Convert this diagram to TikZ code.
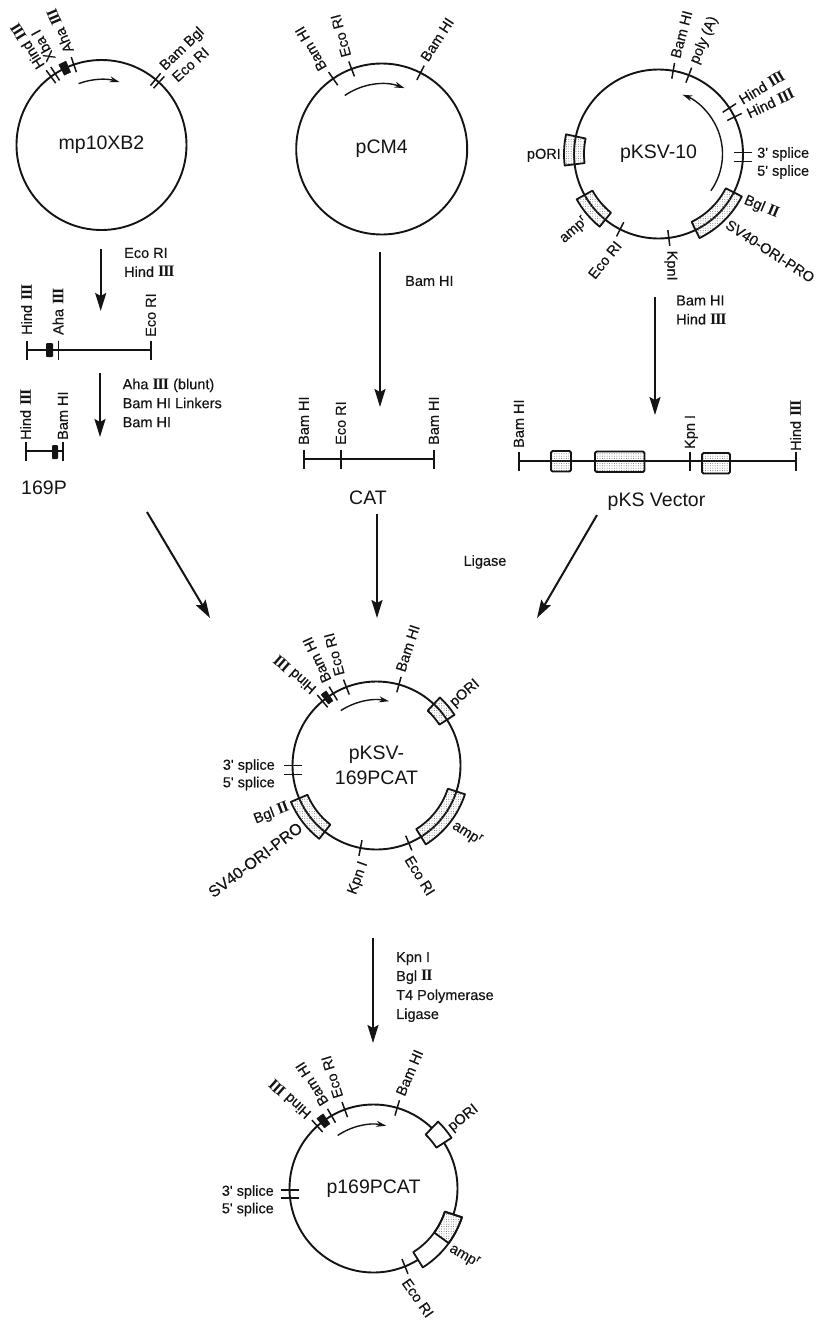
\documentclass[tikz,border=0pt]{standalone}
\usepackage{fontspec}
\setmainfont{Liberation Sans}
\newfontfamily\romfont[Scale=1.1]{Liberation Serif}
\newfontfamily\labfont[FakeBold=0.35]{Liberation Sans}
\usetikzlibrary{arrows.meta, patterns.meta}
\definecolor{ink}{HTML}{141414}

\newcommand{\plasfont}{\fontsize{19.5}{25}\selectfont}
\newcommand{\sitefont}{\labfont\fontsize{14.5}{19}\selectfont}
\newcommand{\longfont}{\fontsize{16}{19}\selectfont}
% Roman numerals of the enzyme names
\newcommand{\rIII}{{\romfont\bfseries I\kern-1pt I\kern-1pt I}}
\newcommand{\rII}{{\romfont\bfseries I\kern-1pt I}}

\tikzset{
  plasmid/.style={draw=ink, circle, line width=1.9pt, inner sep=0pt, outer sep=0pt,
    minimum size=2*\plasR pt, align=center, text=ink, font=\plasfont},
  sitelabel/.style={inner sep=0pt, text=ink, font=\sitefont, text height=10.5pt, text depth=1pt},
  steplabel/.style={inner sep=0pt, text=ink, font=\sitefont, align=left, anchor=west},
  namelabel/.style={inner sep=0pt, text=ink, font=\plasfont},
  sitebar/.style={ink, line width=1.5pt},
  genebox/.style={draw=ink, line width=1.8pt, line join=round,
    pattern={Dots[distance=2.4pt, radius=0.5pt]}, pattern color=ink!60},
  emptybox/.style={draw=ink, line width=1.8pt, line join=round, fill=white},
  markbox/.style={fill=ink, draw=ink, line width=0.5pt, line join=round},
  fragline/.style={ink, line width=1.6pt},
  generun/.style={ink, line width=1.4pt, -{Stealth[length=10pt, width=6pt]}},
  steparrow/.style={ink, line width=2pt, -{Stealth[length=18pt, width=11pt, inset=3pt]}},
}

% bar across the circle at an angle
\newcommand{\sitemark}[1]{\draw[sitebar] (#1:\plasR-8) -- (#1:\plasR+8);}
% flat bar for the splice sites
\newcommand{\splicemark}[1]{\draw[sitebar] (#1:\plasR) ++(-9,0) -- ++(18,0);}
% label running away from the circle: name, place angle, text angle, text
\newcommand{\siteout}[4]{\node[sitelabel, rotate=#3, anchor=west] (#1) at (#2:\plasR+13) {#4};}
% label running towards the circle
\newcommand{\sitein}[4]{\node[sitelabel, rotate=#3, anchor=east] (#1) at (#2:\plasR+13) {#4};}
% box sitting on the circle: style, from angle, to angle, half width
\newcommand{\plasarc}[4][genebox]{\draw[#1] (#2:\plasR-#4) arc[start angle=#2, end angle=#3, radius=\plasR-#4]
  -- (#3:\plasR+#4) arc[start angle=#3, end angle=#2, radius=\plasR+#4] -- cycle;}
% arrow inside the circle: from angle, to angle, radius
\newcommand{\plasrun}[3]{\draw[generun] (#1:#3) arc[start angle=#1, end angle=#2, radius=#3];}
% site on a linear fragment: name, x, y of the line, text, label gap
\newcommand{\fragsite}[5]{\draw[fragline] (#2,#3+9.5) -- (#2,#3-9.5);
  \node[sitelabel, rotate=90, anchor=west] (#1) at (#2,#3+#5) {#4};}

\begin{document}
\begin{tikzpicture}[x=1pt, y=1pt]
\useasboundingbox (0,0) rectangle (816,-1325);

% =============================================
% Top row: three starting plasmids
% =============================================
% mp10XB2
\begin{scope}[shift={(101.5,-145)}]
  \def\plasR{85}
  \node[plasmid] (mpten) at (0,0) {mp10XB2};
  \sitemark{126.5} \sitemark{123} \sitemark{109}
  \plasarc[markbox]{113}{118}{6}
  \sitemark{47.5} \sitemark{50.5}
  \plasrun{110.5}{74}{65.5}
  \siteout{mphind}{128}{122}{Hind \rIII}
  \siteout{mpxba}{120.5}{119}{Xba I}
  \siteout{mpaha}{109}{113}{Aha \rIII}
  \siteout{mpbam}{52}{44}{Bam Bgl}
  \siteout{mpeco}{42}{42}{Eco RI}
\end{scope}

% pCM4
\begin{scope}[shift={(381.7,-149)}]
  \def\plasR{85.5}
  \node[plasmid] (pcm) at (0,0) {pCM4};
  \sitemark{124.6} \sitemark{110.6} \sitemark{63}
  \plasrun{124.6}{69.5}{65}
  \siteout{pcmbama}{126.4}{120}{Bam HI}
  \siteout{pcmeco}{110.8}{105}{Eco RI}
  \siteout{pcmbamb}{64.5}{57}{Bam HI}
\end{scope}

% pKSV-10
\begin{scope}[shift={(658.5,-154)}]
  \def\plasR{84.5}
  \node[plasmid] (ksv) at (0,0) {pKSV-10};
  \sitemark{80} \sitemark{69} \sitemark{33} \sitemark{26}
  \splicemark{1} \splicemark{-5}
  \sitemark{-83} \sitemark{-117}
  \plasarc{-27}{-64}{9}
  \plasarc{209}{231}{9}
  \plasarc{168}{187}{10}
  \plasrun{-35}{68}{64}
  \siteout{ksvbam}{80}{75}{Bam HI}
  \siteout{ksvpoly}{69}{67}{poly (A)}
  \siteout{ksvhinda}{33}{31}{Hind \rIII}
  \siteout{ksvhindb}{24}{25}{Hind \rIII}
  \node[sitelabel, anchor=west] (ksvthree) at (98.5,1) {3' splice};
  \node[sitelabel, anchor=west] (ksvfive) at (98.5,-17) {5' splice};
  \siteout{ksvbgl}{-27.5}{-23}{Bgl \rII}
  \siteout{ksvsv}{-45.4}{-33}{SV40-ORI-PRO}
  \siteout{ksvkpn}{-82}{-90}{KpnI}
  \sitein{ksveco}{246}{51}{Eco RI}
  \sitein{ksvamp}{221.5}{41}{amp\textsuperscript{r}}
  \sitein{ksvori}{180}{0}{pORI}
\end{scope}

% =============================================
% Linear fragments
% =============================================
% Eco RI / Hind III piece of mp10XB2
\draw[fragline] (27,-350) -- (151,-350);
\fill[ink, rounded corners=1pt] (46,-343) rectangle (53,-357);
\fragsite{fahind}{27}{-350}{Hind \rIII}{15}
\fragsite{faaha}{58.5}{-350}{Aha \rIII}{15}
\fragsite{faeco}{151}{-350}{Eco RI}{13}

% 169P
\draw[fragline] (26,-451) -- (63,-451);
\fill[ink, rounded corners=1pt] (52,-445) rectangle (58,-459);
\fragsite{fbhind}{26}{-451}{Hind \rIII}{11}
\fragsite{fbbam}{63}{-451}{Bam HI}{11}
\node[namelabel] (p169) at (44,-488) {169P};

% CAT
\draw[fragline] (304,-459) -- (434,-459);
\fragsite{catbama}{304}{-459}{Bam HI}{14}
\fragsite{cateco}{341}{-459}{Eco RI}{14}
\fragsite{catbamb}{434}{-459}{Bam HI}{14}
\node[namelabel] (cat) at (368,-497.5) {CAT};

% pKS Vector
\draw[fragline] (519,-461) -- (796,-461);
\fragsite{vecbam}{519}{-461}{Bam HI}{13}
\fragsite{veckpn}{690}{-461}{Kpn I}{12}
\fragsite{vechind}{796}{-461}{Hind \rIII}{10}
\draw[genebox, rounded corners=1.5pt] (551,-451) rectangle (571,-471.5);
\draw[genebox, rounded corners=1.5pt] (595,-451.5) rectangle (644.5,-472);
\draw[genebox, rounded corners=1.5pt] (702,-453) rectangle (730,-473.5);
\node[namelabel] (vec) at (656.5,-502) {pKS Vector};

% =============================================
% Ligation product and final plasmid
% =============================================
% pKSV-169PCAT
\begin{scope}[shift={(376.5,-765.5)}]
  \def\plasR{84}
  \node[plasmid] (joined) at (0,0) {pKSV-\\169PCAT};
  \sitemark{130} \sitemark{121} \sitemark{111} \sitemark{74.5}
  \plasarc[markbox]{124}{128}{6}
  \splicemark{180} \splicemark{186}
  \sitemark{-67.4} \sitemark{-101}
  \plasarc{33}{47}{9}
  \plasarc{-18}{-58}{9}
  \plasarc{203}{232}{9}
  \plasrun{123}{79}{65.5}
  \siteout{jhind}{130}{139}{Hind \rIII}
  \siteout{jbama}{120.4}{115}{Bam HI}
  \siteout{jeco}{112}{105}{Eco RI}
  \siteout{jbamb}{75.7}{72}{Bam HI}
  \siteout{jori}{39.5}{41}{pORI}
  \siteout{jamp}{-37}{-32}{amp\textsuperscript{r}}
  \siteout{jecob}{-71}{-58}{Eco RI}
  \sitein{jkpn}{-98}{70}{Kpn I}
  \sitein{jbgl}{204.7}{21}{Bgl \rII}
  \sitein{jsv}{218.9}{37}{\longfont SV40-ORI-PRO}
  \node[sitelabel, anchor=east] (jthree) at (-101.5,0.5) {3' splice};
  \node[sitelabel, anchor=east] (jfive) at (-101.5,-17) {5' splice};
\end{scope}

% p169PCAT
\begin{scope}[shift={(373.5,-1188.5)}]
  \def\plasR{84}
  \node[plasmid] (final) at (0,0) {p169PCAT};
  \sitemark{132} \sitemark{120} \sitemark{110} \sitemark{73.6}
  \plasarc[markbox]{124}{129}{6}
  \splicemark{181} \splicemark{186.5}
  \sitemark{-68}
  \plasarc[emptybox]{33}{46}{9}
  \plasarc[emptybox]{-18}{-58}{9}
  \plasarc{-18}{-36}{9}
  \plasrun{124}{78.5}{64}
  \siteout{fhind}{131.7}{138}{Hind \rIII}
  \siteout{fbama}{120}{122}{Bam HI}
  \siteout{feco}{111}{107}{Eco RI}
  \siteout{fbamb}{74}{67}{Bam HI}
  \siteout{fori}{38.5}{39}{pORI}
  \siteout{famp}{-37}{-30}{amp\textsuperscript{r}}
  \siteout{fecob}{-71}{-55}{Eco RI}
  \node[sitelabel, anchor=east] (fthree) at (-99.5,-2.5) {3' splice};
  \node[sitelabel, anchor=east] (ffive) at (-99.5,-20) {5' splice};
\end{scope}

% =============================================
% Arrows and enzyme notes
% =============================================
\coordinate (mpout) at (100.7,-249);
\coordinate (mpin) at (100.7,-311);
\draw[steparrow] (mpout) -- (mpin);
\node[steplabel] (mpenz) at (124,-262.5) {Eco RI\\Hind \rIII};

\coordinate (faout) at (100,-373);
\coordinate (fain) at (100,-437);
\draw[steparrow] (faout) -- (fain);
\node[steplabel] (faenz) at (122.5,-403) {Aha \rIII{} (blunt)\\Bam HI Linkers\\Bam HI};

\coordinate (pcmout) at (380,-252);
\coordinate (pcmin) at (380,-407);
\draw[steparrow] (pcmout) -- (pcmin);
\node[steplabel] (pcmenz) at (405,-281) {Bam HI};

\coordinate (ksvout) at (655,-297);
\coordinate (ksvin) at (655,-415);
\draw[steparrow] (ksvout) -- (ksvin);
\node[steplabel] (ksvenz) at (676,-310) {Bam HI\\Hind \rIII};

\coordinate (bpout) at (147,-512);
\coordinate (bpin) at (210,-618);
\draw[steparrow] (bpout) -- (bpin);
\coordinate (catout) at (377,-514);
\coordinate (catin) at (377,-618);
\draw[steparrow] (catout) -- (catin);
\coordinate (vecout) at (597,-515);
\coordinate (vecin) at (537,-618);
\draw[steparrow] (vecout) -- (vecin);
\node[steplabel, anchor=center] (ligase) at (485,-562) {Ligase};

\coordinate (jout) at (373,-938);
\coordinate (jin) at (373,-1043);
\draw[steparrow] (jout) -- (jin);
\node[steplabel] (jenz) at (396,-987) {Kpn I\\Bgl \rII\\T4 Polymerase\\Ligase};

\end{tikzpicture}
\end{document}
